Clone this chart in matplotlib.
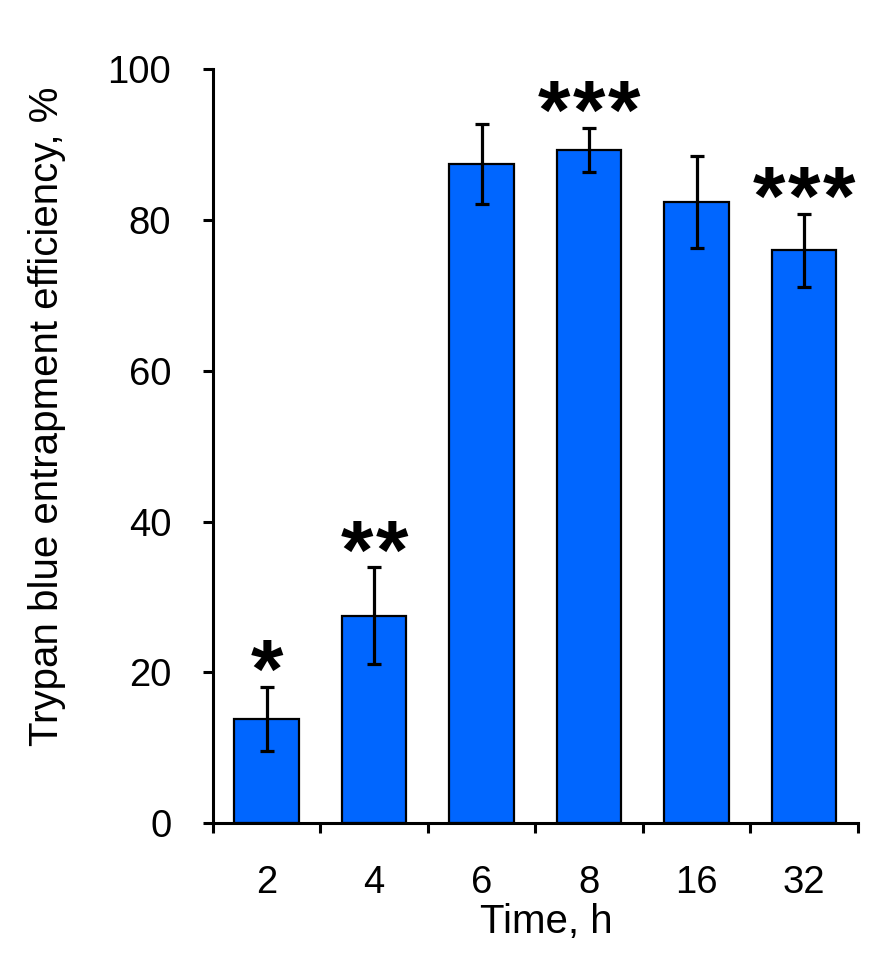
import matplotlib
matplotlib.use("Agg")
import matplotlib.pyplot as plt
import numpy as np

plt.rcParams['font.family'] = ['Liberation Sans', 'DejaVu Sans']

categories = ["2", "4", "6", "8", "16", "32"]
values = [13.8, 27.5, 87.4, 89.3, 82.4, 76.0]
errors = [4.3, 6.4, 5.3, 2.9, 6.1, 4.85]
stars = ["*", "**", "", "***", "", "***"]
y_ticks = [0, 20, 40, 60, 80, 100]

W, H = 887, 968
fig = plt.figure(figsize=(W / 100, H / 100), dpi=100)
ax = fig.add_axes([213 / W, 1 - 823 / H, (858 - 213) / W, (823 - 69.3) / H])

x = np.arange(len(categories))
ax.bar(x, values, width=0.6, color='#0066ff', edgecolor='black', linewidth=1.6, zorder=2)
ax.errorbar(x, values, yerr=errors, fmt='none', ecolor='black', elinewidth=2.3,
            capsize=4.7, capthick=2.3, zorder=3)

star_step = 25.2  # points between asterisks
for xi, v, e, s in zip(x, values, errors, stars):
    n = len(s)
    for j in range(n):
        dx = (j - (n - 1) / 2) * star_step
        ax.annotate("*", xy=(xi, v + e), xytext=(dx, -8.0), textcoords='offset points',
                    ha='center', va='baseline', fontsize=60, fontweight='bold')

ax.set_xlim(-0.5, len(categories) - 0.5)
ax.set_ylim(0, 100)
ax.set_yticks(y_ticks)
ax.set_yticklabels([str(t) for t in y_ticks], fontsize=27.5)
ax.set_xticks(np.arange(-0.5, len(categories), 1.0))
ax.set_xticklabels([])
ax.set_xticks(x, minor=True)
ax.set_xticklabels(categories, minor=True, fontsize=27.5)
ax.tick_params(axis='x', which='minor', length=0, pad=30)
ax.tick_params(axis='x', which='major', length=7, width=2.2, direction='out')
ax.tick_params(axis='y', length=7, width=2.2, direction='out', pad=23)

for side in ['top', 'right']:
    ax.spines[side].set_visible(False)
for side in ['left', 'bottom']:
    ax.spines[side].set_linewidth(2.2)

fig.text(546.7 / W, 1 - 933 / H, "Time, h", ha='center', va='baseline', fontsize=29)
fig.text(47 / W, 1 - 416.5 / H, "Trypan blue entrapment efficiency, %", rotation=90,
         ha='center', va='center', fontsize=29)

fig.savefig("out.png", dpi=100)
